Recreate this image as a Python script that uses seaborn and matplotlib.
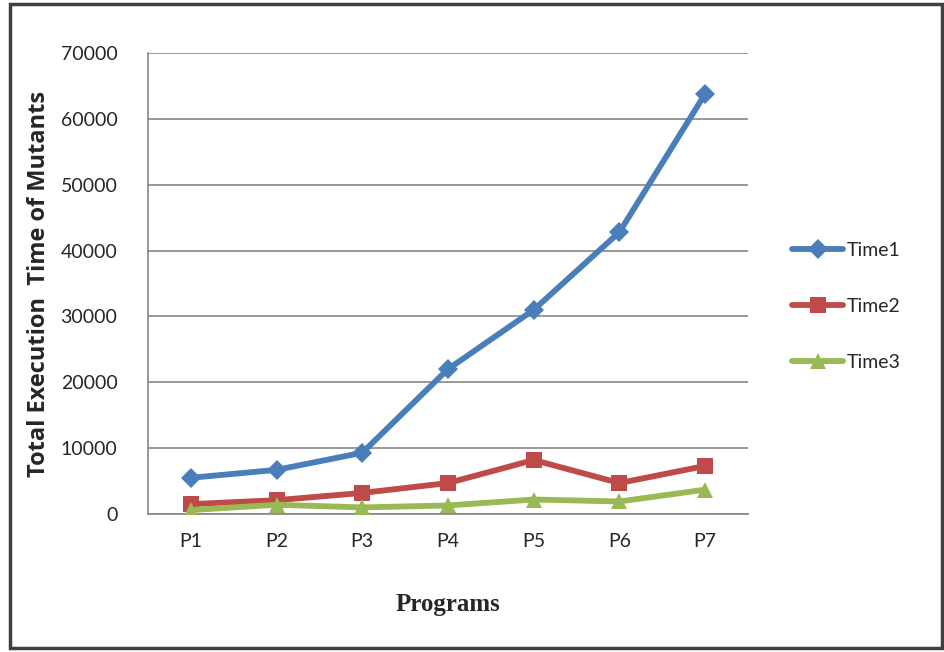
import matplotlib
matplotlib.use("Agg")
import matplotlib.pyplot as plt
import seaborn as sns
import pandas as pd

programs = ["P1", "P2", "P3", "P4", "P5", "P6", "P7"]
time1 = [5500, 6700, 9300, 22000, 31000, 42800, 63800]
time2 = [1500, 2100, 3200, 4700, 8200, 4700, 7300]
time3 = [600, 1400, 1000, 1300, 2200, 1900, 3700]
y_ticks = [0, 10000, 20000, 30000, 40000, 50000, 60000, 70000]

df = pd.DataFrame({"Program": programs, "Time1": time1, "Time2": time2, "Time3": time3})
long = df.melt(id_vars="Program", var_name="Series", value_name="Time")
long["x"] = long["Program"].map({p: i for i, p in enumerate(programs)})

sns.set_style("white")
plt.rcParams["font.family"] = ["Lato", "DejaVu Sans"]

fig = plt.figure(figsize=(9.45, 6.52), dpi=100)
ax = fig.add_axes([148 / 945, 1 - 514 / 652, 600 / 945, 461 / 652])

palette = {"Time1": "#4a7ebb", "Time2": "#be4b48", "Time3": "#98b954"}
markers = {"Time1": "D", "Time2": "s", "Time3": "^"}
sizes = {"Time1": 10, "Time2": 12, "Time3": 12}

for name in ["Time1", "Time2", "Time3"]:
    sub = long[long["Series"] == name]
    sns.lineplot(data=sub, x="x", y="Time", ax=ax, color=palette[name], lw=4.2,
                 marker=markers[name], markersize=sizes[name], markeredgewidth=0,
                 label=name, zorder=3)

ax.set_xlim(-0.5, 6.5)
ax.set_ylim(0, 70000)
ax.set_xticks(range(len(programs)))
ax.set_xticklabels(programs, fontsize=14)
ax.set_yticks(y_ticks)
ax.set_yticklabels([str(v) for v in y_ticks], fontsize=14)
ax.tick_params(axis="both", length=0, pad=14)
ax.tick_params(axis="y", pad=22)
ax.grid(axis="y", color="#868686", lw=1.2)
for s in ["top", "right"]:
    ax.spines[s].set_visible(False)
for s in ["left", "bottom"]:
    ax.spines[s].set_color("#868686")
    ax.spines[s].set_linewidth(1.2)

ax.set_ylabel("Total Execution  Time of Mutants", fontsize=17, fontweight="bold",
              family=["Open Sans", "DejaVu Sans"], labelpad=7)
ax.set_xlabel("Programs", fontsize=18, fontweight="bold", family=["Liberation Serif"], labelpad=31)

leg = ax.legend(loc="center left", bbox_to_anchor=(1.045, 0.45), frameon=False,
                fontsize=14, handlelength=2.6, labelspacing=2.0, handletextpad=0.2)

frame = plt.Rectangle((10 / 945, 4 / 652), 932 / 945, 644 / 652, transform=fig.transFigure,
                      fill=False, edgecolor="#404040", lw=2.5)
fig.patches.append(frame)

fig.savefig("out.png", dpi=100)
